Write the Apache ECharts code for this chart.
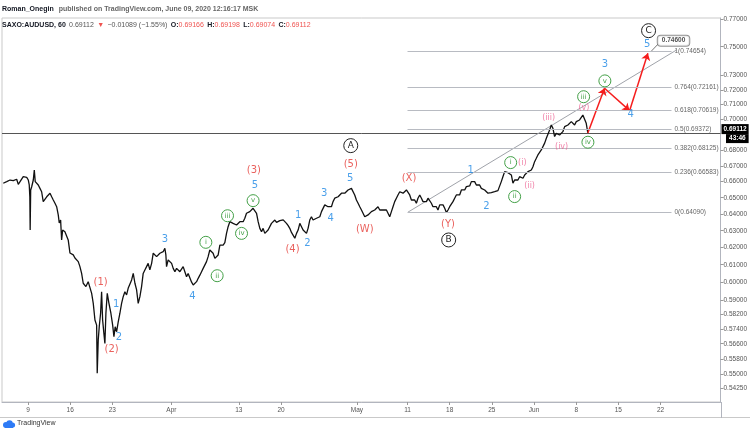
<!DOCTYPE html>
<html><head><meta charset="utf-8">
<script src="https://cdn.jsdelivr.net/npm/echarts@6/dist/echarts.min.js"></script>
<style>html,body{margin:0;padding:0;background:#fff}#c{width:750px;height:430px}</style>
</head><body><div id="c"></div>
<script>
// ---- price path (trading-day index from Mon Mar 9 2020, weekends removed) ----
const priceDays = [-2.93,-2.52,-2.13,-1.74,-1.34,-1.15,-0.95,-0.56,-0.36,-0.15,0.04,0.15,0.22,0.26,0.32,0.44,0.63,0.75,0.86,1.03,1.22,1.42,1.62,1.81,2.01,2.22,2.41,2.61,2.81,3.00,3.20,3.40,3.59,3.71,3.87,3.99,4.11,4.38,4.59,4.77,4.98,5.18,5.37,5.57,5.77,5.96,6.16,6.36,6.55,6.87,7.14,7.35,7.55,7.74,7.94,8.14,8.21,8.33,8.45,8.61,8.73,8.85,9.00,9.12,9.24,9.40,9.60,9.83,10.04,10.19,10.34,10.51,10.70,10.90,11.10,11.29,11.49,11.69,11.88,12.09,12.29,12.48,12.68,12.88,13.07,13.27,13.47,13.66,13.86,14.06,14.25,14.45,14.66,14.85,15.05,15.25,15.44,15.64,15.84,16.03,16.23,16.35,16.43,16.62,16.82,17.03,17.22,17.42,17.62,17.81,18.01,18.21,18.40,18.60,18.80,18.99,19.19,19.40,19.59,19.79,19.99,20.18,20.38,20.58,20.77,20.97,21.17,21.36,21.56,21.77,21.95,22.16,22.36,22.55,22.75,22.95,23.14,23.34,23.54,23.73,23.93,24.13,24.32,24.53,24.73,24.92,25.12,25.32,25.51,25.71,25.91,26.10,26.30,26.50,26.69,26.90,27.10,27.29,27.49,27.69,27.88,28.08,28.28,28.47,28.67,28.87,29.07,29.27,29.47,29.66,29.86,30.06,30.26,30.45,30.65,30.85,31.04,31.24,31.43,31.64,31.84,32.03,32.23,32.43,32.62,32.82,33.02,33.21,33.41,33.61,33.80,34.00,34.21,34.40,34.60,34.80,34.99,35.19,35.39,35.58,35.78,35.98,36.17,36.37,36.58,36.77,36.97,37.17,37.36,37.56,37.76,37.95,38.15,38.35,38.54,38.74,38.94,39.14,39.34,39.54,39.73,39.93,40.13,40.32,40.52,40.72,40.91,41.11,41.32,41.50,41.71,41.91,42.10,42.30,42.50,42.69,42.89,43.09,43.28,43.48,43.68,43.87,44.08,44.27,44.47,44.67,44.87,45.06,45.26,45.46,45.65,45.85,46.05,46.24,46.45,46.65,46.84,47.04,47.24,47.43,47.63,47.83,48.02,48.22,48.42,48.61,48.82,49.02,49.21,49.41,49.61,49.80,50.00,50.20,50.39,50.59,50.79,50.98,51.18,51.39,51.58,51.78,51.98,52.17,52.37,52.57,52.76,52.96,53.16,53.35,53.55,53.75,53.94,54.15,54.35,54.54,54.74,54.94,55.13,55.33,55.53,55.72,55.92,56.12,56.32,56.52,56.72,56.91,57.11,57.31,57.50,57.70,57.90,58.09,58.29,58.49,58.69,58.89,59.09,59.28,59.48,59.68,59.87,60.07,60.27,60.46,60.66,60.86,61.05,61.26,61.46,61.65,61.85,62.05,62.24,62.44,62.64,62.83,63.03,63.23,63.42,63.63,63.83,64.02,64.22,64.42,64.61,64.81,65.01,65.20,65.40,65.60,65.79,65.99,66.19,66.38];
const priceValues = [0.6590,0.6600,0.6610,0.6606,0.6615,0.6583,0.6593,0.6631,0.6642,0.6627,0.6610,0.6579,0.6507,0.6304,0.6548,0.6568,0.6610,0.6673,0.6600,0.6590,0.6579,0.6558,0.6537,0.6476,0.6486,0.6506,0.6517,0.6528,0.6506,0.6486,0.6466,0.6445,0.6395,0.6346,0.6364,0.6245,0.6304,0.6294,0.6284,0.6245,0.6168,0.6176,0.6157,0.6139,0.6128,0.6118,0.6089,0.6050,0.5994,0.5975,0.6003,0.5994,0.5937,0.5881,0.5789,0.5761,0.5504,0.5680,0.5752,0.5826,0.5946,0.5789,0.5716,0.5662,0.5826,0.5937,0.5881,0.5826,0.5761,0.5698,0.5752,0.5725,0.5779,0.5826,0.5881,0.5918,0.5946,0.5928,0.5965,0.5975,0.6013,0.6050,0.5994,0.5956,0.5881,0.5918,0.5975,0.6050,0.6070,0.6089,0.6108,0.6070,0.6108,0.6167,0.6157,0.6147,0.6157,0.6167,0.6157,0.6176,0.6196,0.6157,0.6089,0.6128,0.6137,0.6108,0.6079,0.6060,0.6079,0.6089,0.6060,0.6070,0.6089,0.6060,0.6031,0.6050,0.6041,0.6000,0.5984,0.5994,0.6003,0.6022,0.6040,0.6060,0.6079,0.6089,0.6118,0.6147,0.6186,0.6190,0.6167,0.6137,0.6128,0.6157,0.6215,0.6225,0.6215,0.6229,0.6284,0.6324,0.6354,0.6344,0.6344,0.6350,0.6334,0.6344,0.6354,0.6344,0.6354,0.6375,0.6405,0.6395,0.6415,0.6425,0.6435,0.6441,0.6405,0.6354,0.6314,0.6294,0.6314,0.6284,0.6274,0.6304,0.6314,0.6344,0.6355,0.6364,0.6350,0.6344,0.6360,0.6354,0.6365,0.6375,0.6344,0.6330,0.6314,0.6290,0.6274,0.6255,0.6284,0.6304,0.6344,0.6324,0.6304,0.6314,0.6284,0.6314,0.6364,0.6384,0.6364,0.6354,0.6375,0.6364,0.6384,0.6415,0.6425,0.6456,0.6456,0.6445,0.6435,0.6445,0.6476,0.6497,0.6486,0.6506,0.6517,0.6528,0.6537,0.6528,0.6537,0.6548,0.6552,0.6558,0.6548,0.6517,0.6486,0.6466,0.6445,0.6425,0.6415,0.6384,0.6375,0.6395,0.6405,0.6415,0.6415,0.6425,0.6435,0.6445,0.6425,0.6435,0.6425,0.6415,0.6425,0.6405,0.6384,0.6415,0.6445,0.6476,0.6497,0.6517,0.6537,0.6530,0.6528,0.6540,0.6548,0.6537,0.6517,0.6486,0.6476,0.6486,0.6466,0.6497,0.6517,0.6497,0.6476,0.6486,0.6476,0.6497,0.6486,0.6466,0.6445,0.6435,0.6445,0.6425,0.6456,0.6445,0.6456,0.6435,0.6409,0.6425,0.6445,0.6435,0.6476,0.6497,0.6517,0.6528,0.6517,0.6548,0.6558,0.6548,0.6569,0.6579,0.6573,0.6600,0.6610,0.6600,0.6579,0.6568,0.6579,0.6558,0.6565,0.6548,0.6537,0.6528,0.6537,0.6531,0.6528,0.6537,0.6537,0.6544,0.6548,0.6600,0.6632,0.6663,0.6669,0.6656,0.6663,0.6642,0.6590,0.6610,0.6621,0.6610,0.6631,0.6642,0.6621,0.6642,0.6652,0.6663,0.6652,0.6673,0.6694,0.6726,0.6748,0.6769,0.6780,0.6801,0.6812,0.6845,0.6877,0.6888,0.6931,0.6964,0.6942,0.6888,0.6909,0.6920,0.6898,0.6888,0.6920,0.6953,0.6942,0.6964,0.6975,0.6986,0.6975,0.6964,0.6986,0.6975,0.6997,0.7008,0.7030,0.7019,0.6975,0.69112];

// ---- axes ----
const xTickDays   = [0,5,10,17,25,30,39,45,50,55,60,65,70,75];
const xTickLabels = ['9','16','23','Apr','13','20','May','11','18','25','Jun','8','15','22'];
const yTicks = [0.77,0.75,0.73,0.72,0.71,0.70,0.68,0.67,0.66,0.65,0.64,0.63,0.62,0.61,0.60,0.59,0.582,0.574,0.566,0.558,0.55,0.5425];
const xRange = [-3.08, 82.11];
const priceRange = [0.5356, 0.7707];

// ---- last price ----
const lastPrice = 0.69112;
const countdown = '43:46';

// ---- fibonacci retracement ----
const fibRatios = ['0','0.236','0.382','0.5','0.618','0.764','1'];
const fibPrices = [0.64090,0.66583,0.68125,0.69372,0.70619,0.72161,0.74654];
const fibDays = [45.0, 76.3];

// ---- trend line ----
const trendDays = [45.06, 76.9];
const trendPrices = [0.6412, 0.7477];

// ---- projected path (red arrows) ----
const projDays = [66.38, 68.36, 71.33, 73.50];
const projPrices = [0.69112, 0.7211, 0.7059, 0.7454];

// ---- callout ----
const calloutText = '0.74600';
const calloutDay = 76.54, calloutPrice = 0.7543;
const calloutPtrDays = [74.76, 73.93];
const calloutPtrPrices = [0.7522, 0.7470];

// ---- wave labels ----
const redText  = ['(1)','(2)','(3)','(4)','(5)','(W)','(X)','(Y)'];
const redDay   = [8.61,9.92,26.78,31.36,38.27,39.93,45.18,49.80];
const redPrice = [0.5997,0.5632,0.6669,0.6192,0.6709,0.6310,0.6617,0.6340];

const blueText  = ['1','2','3','4','5','1','2','3','4','5','1','2','3','4','5'];
const blueDay   = [10.46,10.78,16.23,19.51,26.90,32.03,33.14,35.11,35.90,38.19,52.49,54.35,68.40,71.45,73.42];
const bluePrice = [0.5876,0.5692,0.6249,0.5919,0.6575,0.6393,0.6225,0.6525,0.6375,0.6621,0.6669,0.6445,0.7372,0.7035,0.7513];

const greenText  = ['i','ii','iii','iv','v','i','ii','iii','iv','v'];
const greenDay   = [21.09,22.43,23.66,25.32,26.69,57.23,57.70,65.88,66.39,68.40];
const greenPrice = [0.6231,0.6037,0.6390,0.6284,0.6482,0.6720,0.6507,0.7153,0.6851,0.7261];

const pinkText  = ['(i)','(ii)','(iii)','(iv)','(v)'];
const pinkDay   = [58.61,59.48,61.73,63.27,65.91];
const pinkPrice = [0.6716,0.6573,0.7010,0.6818,0.7075];

const blackText  = ['A','B','C'];
const blackDay   = [38.27,49.88,73.58];
const blackPrice = [0.6829,0.6245,0.7615];

// ---- header ----
const author = 'Roman_Onegin';
const published = 'published on TradingView.com, June 09, 2020 12:16:17 MSK';
const symbolName = 'SAXO:AUDUSD, 60';
const change = '−0.01089 (−1.55%)';
const ohlcNames = ['O:','H:','L:','C:'];
const ohlcValues = ['0.69166','0.69198','0.69074','0.69112'];

const L = Math.log;
const F = "'Liberation Sans Narrow','Liberation Sans',Arial,sans-serif";
const LF = "'DejaVu Sans','Open Sans',sans-serif";
const RED='#e53935', BLUE='#1e88e5', GREEN='#43a047', PINK='#ec6494', BLACK='#222';

function textSeries(days, prices, texts, color, size){
  return {type:'scatter', z:6, symbolSize:1, itemStyle:{color:'rgba(0,0,0,0)'},
    data: days.map((d,i)=>[d, L(prices[i]), texts[i]]),
    label:{show:true, position:'inside', formatter:p=>p.data[2], color:color, fontSize:size, fontFamily:LF},
    silent:true};
}
function circledSeries(days, prices, texts, color, sym, size){
  return {type:'scatter', z:7, symbol:'circle', symbolSize:sym,
    itemStyle:{color:'#fff', borderColor:color, borderWidth:1, opacity:1},
    data: days.map((d,i)=>[d, L(prices[i]), texts[i]]),
    label:{show:true, position:'inside', formatter:p=>p.data[2], color:color, fontSize:size, fontFamily:LF},
    silent:true};
}

let sub = `{b|${symbolName}} {n|${lastPrice.toFixed(5)}} {r|▼} {n|${change}}`;
ohlcNames.forEach((n,i)=>{ sub += ` {b|${n}}{r|${ohlcValues[i]}}`; });

const chart = echarts.init(document.getElementById('c'), null, {renderer:'canvas'});
chart.setOption({
  animation:false,
  backgroundColor:'#fff',
  title:{
    left:2, top:0, itemGap:1, padding:[0,0,0,0],
    text:`{b|${author}} {g|${published}}`,
    textStyle:{rich:{
      b:{fontWeight:'bold', color:'#131722', fontSize:7, fontFamily:F},
      g:{color:'#666', fontSize:7, fontFamily:F}}},
    subtext: sub,
    subtextStyle:{rich:{
      b:{fontWeight:'bold', color:'#131722', fontSize:7, fontFamily:F},
      n:{color:'#555', fontSize:7, fontFamily:F},
      r:{color:'#ef5350', fontSize:7, fontFamily:F}}}
  },
  grid:{left:2, right:29, top:18, bottom:28, show:true, borderColor:'#c9c9c9', borderWidth:1},
  xAxis:{
    type:'value', min:xRange[0], max:xRange[1],
    splitLine:{show:false},
    axisLine:{show:true, onZero:false, lineStyle:{color:'#b2b5be'}},
    axisTick:{show:true, length:3, customValues:xTickDays, lineStyle:{color:'#999'}},
    axisLabel:{customValues:xTickDays, formatter:v=>xTickLabels[xTickDays.indexOf(Math.round(v))]||'',
      fontSize:6.5, color:'#555', fontFamily:F, margin:5}
  },
  yAxis:{
    type:'value', position:'right', min:L(priceRange[0]), max:L(priceRange[1]),
    splitLine:{show:false},
    axisLine:{show:true, onZero:false, lineStyle:{color:'#b2b5be'}},
    axisTick:{show:true, length:3, customValues:yTicks.map(L), lineStyle:{color:'#999'}},
    axisLabel:{customValues:yTicks.map(L), formatter:v=>Math.exp(v).toFixed(5),
      fontSize:6.5, color:'#555', fontFamily:F, margin:3}
  },
  series:[
    {type:'line', z:3, showSymbol:false, silent:true,
      data: priceDays.map((d,i)=>[d, L(priceValues[i])]),
      lineStyle:{color:'#111', width:1.3},
      markLine:{silent:true, symbol:'none', z:2,
        data:[{yAxis:L(lastPrice)}],
        lineStyle:{color:'#555', width:1, type:'solid'},
        label:{position:'end', distance:1,
          formatter:`{a|${lastPrice.toFixed(5)}}\n{c|${countdown}}`,
          rich:{
            a:{backgroundColor:'#000', color:'#fff', fontWeight:'bold', fontSize:6.5, fontFamily:F, padding:[2,2,1,2]},
            c:{backgroundColor:'#000', color:'#fff', fontWeight:'bold', fontSize:6.5, fontFamily:F, padding:[1,3,1,3], align:'right'}
          }}
      }
    },
    {type:'line', data:[], silent:true,
      markLine:{silent:true, symbol:'none',
        lineStyle:{color:'#b8bbc2', width:1, type:'solid'},
        label:{show:true, position:'end', distance:3, color:'#666', fontSize:6.5, fontFamily:F},
        data: fibPrices.map((p,i)=>[
          {coord:[fibDays[0], L(p)], label:{formatter:`${fibRatios[i]}(${p.toFixed(5)})`}},
          {coord:[fibDays[1], L(p)]}
        ])
      }
    },
    {type:'lines', coordinateSystem:'cartesian2d', silent:true, z:2,
      data:[{coords: trendDays.map((d,i)=>[d, L(trendPrices[i])])}],
      lineStyle:{color:'#a0a3aa', width:1, opacity:1}},
    {type:'lines', coordinateSystem:'cartesian2d', silent:true, z:4,
      symbol:['none','arrow'], symbolSize:7,
      data: projDays.slice(0,-1).map((d,i)=>({coords:[[d, L(projPrices[i])],[projDays[i+1], L(projPrices[i+1])]]})),
      lineStyle:{color:'#f51d1d', width:1.5, opacity:1}},
    {type:'lines', coordinateSystem:'cartesian2d', silent:true, z:4,
      data:[{coords: calloutPtrDays.map((d,i)=>[d, L(calloutPtrPrices[i])])}],
      lineStyle:{color:'#777', width:1, opacity:1}},
    {type:'scatter', z:8, symbolSize:1, itemStyle:{color:'rgba(0,0,0,0)'}, silent:true,
      data:[[calloutDay, L(calloutPrice)]],
      label:{show:true, position:'inside', formatter:calloutText, color:'#222', fontWeight:'bold',
        fontSize:6.5, fontFamily:F, backgroundColor:'#fff', borderColor:'#777', borderWidth:1,
        borderRadius:3, padding:[2,4,1,4]}},
    textSeries(redDay, redPrice, redText, RED, 10),
    textSeries(blueDay, bluePrice, blueText, BLUE, 10),
    textSeries(pinkDay, pinkPrice, pinkText, PINK, 8),
    circledSeries(greenDay, greenPrice, greenText, GREEN, 12, 7),
    circledSeries(blackDay, blackPrice, blackText, BLACK, 14, 9)
  ],
  graphic:[
    {type:'line', shape:{x1:0, y1:417.5, x2:750, y2:417.5}, style:{stroke:'#c9c9c9', lineWidth:1}, silent:true},
    {type:'line', shape:{x1:721.5, y1:402, x2:721.5, y2:418}, style:{stroke:'#b2b5be', lineWidth:1}, silent:true},
    {type:'group', left:3, top:420, silent:true, children:[
      {type:'circle', shape:{cx:4, cy:5, r:3}, style:{fill:'#2e7bf6'}},
      {type:'circle', shape:{cx:7.5, cy:3.5, r:3.2}, style:{fill:'#2e7bf6'}},
      {type:'circle', shape:{cx:10.5, cy:5, r:2.6}, style:{fill:'#2e7bf6'}},
      {type:'rect', shape:{x:3, y:5, width:8, height:3}, style:{fill:'#2e7bf6'}},
      {type:'text', x:15, y:0, style:{text:'TradingView', fontSize:7, fill:'#333', fontFamily:F}}
    ]}
  ]
});
</script></body></html>
